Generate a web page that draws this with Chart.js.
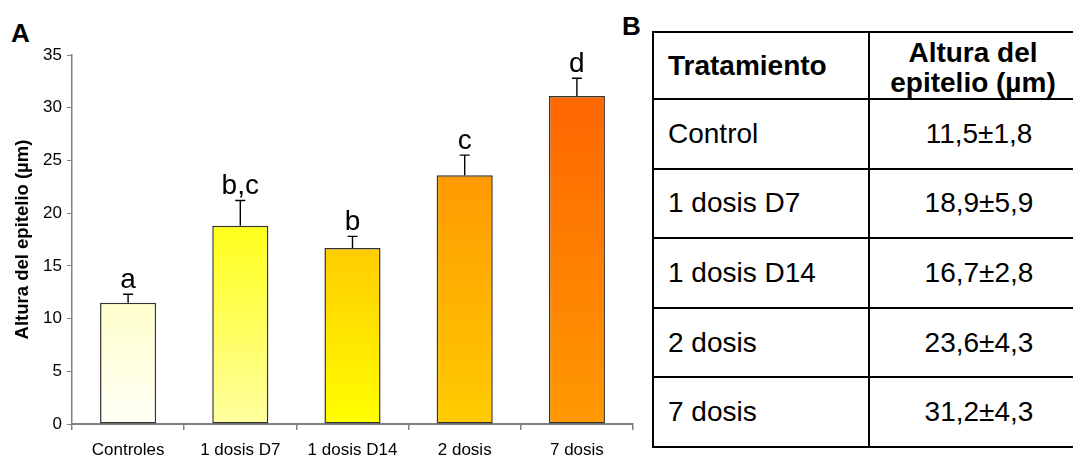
<!DOCTYPE html>
<html>
<head>
<meta charset="utf-8">
<script src="https://cdn.jsdelivr.net/npm/chart.js@4.4.0/dist/chart.umd.min.js"></script>
<style>
    html, body { margin: 0; padding: 0; background: #fff; overflow: hidden; }
    body { width: 1073px; height: 458px; position: relative; font-family: "Liberation Sans", Arial, sans-serif; }
    #chartBox { position: absolute; left: 0; top: 0; width: 645px; height: 458px; }
    .panel { position: absolute; font-weight: bold; font-size: 26px; line-height: 26px; }
    #tabla { position: absolute; left: 652px; top: 31px; width: 434px; border-collapse: collapse; table-layout: fixed; font-size: 28px; }
    #tabla td, #tabla th { border: 2px solid #000; padding: 0 0 0 14px; }
    #tabla th { font-weight: bold; line-height: 30px; }
    #tabla th.num { text-align: center; padding: 4px 10px 0 0; }
    #tabla td.num { text-align: center; padding: 0 0 0 2px; }
    #tabla tr { height: 69.6px; }
    #tabla tr.cab { height: 67px; }
</style>
</head>
<body>
<div class="panel" style="left:11px; top:20px;">A</div>
<div class="panel" style="left:622px; top:13px;">B</div>
<div id="chartBox"><canvas id="grafico" width="645" height="458"></canvas></div>
<table id="tabla">
    <colgroup><col style="width:216px"><col style="width:218px"></colgroup>
    <tbody id="cuerpoTabla">
        <tr class="cab"><th style="text-align:left">Tratamiento</th><th class="num">Altura del<br>epitelio (µm)</th></tr>
    </tbody>
</table>
<script>
// Datos del gráfico (A)
const categorias = ['Controles', '1 dosis D7', '1 dosis D14', '2 dosis', '7 dosis'];
const medias = [11.5, 18.8, 16.7, 23.6, 31.1];
const errores = [0.8, 2.4, 1.1, 1.9, 1.7];
const letras = ['a', 'b,c', 'b', 'c', 'd'];

// Colores del degradado de cada barra (arriba -> abajo)
const coloresArriba = ['#FFFFCC', '#FFFF1A', '#FFCC00', '#FF9900', '#FF6600'];
const coloresAbajo = ['#FFFFF6', '#FFFFA0', '#FFFF00', '#FFCC00', '#FF9900'];

// Datos de la tabla (B)
const tratamientos = ['Control', '1 dosis D7', '1 dosis D14', '2 dosis', '7 dosis'];
const mediasTabla = [11.5, 18.9, 16.7, 23.6, 31.2];
const desviaciones = [1.8, 5.9, 2.8, 4.3, 4.3];

const fuente = '"Liberation Sans", Arial, sans-serif';

// Rellenar la tabla
const cuerpo = document.getElementById('cuerpoTabla');
tratamientos.forEach((t, i) => {
    const fila = document.createElement('tr');
    const a = document.createElement('td');
    a.textContent = t;
    const b = document.createElement('td');
    b.className = 'num';
    b.textContent = `${mediasTabla[i].toFixed(1).replace('.', ',')}±${desviaciones[i].toFixed(1).replace('.', ',')}`;
    fila.appendChild(a);
    fila.appendChild(b);
    cuerpo.appendChild(fila);
});

// Degradado vertical para cada barra
function degradado(context) {
    const i = context.dataIndex;
    const chart = context.chart;
    if (!chart.chartArea || context.type !== 'data') return coloresAbajo[i];
    const yScale = chart.scales.y;
    const arriba = yScale.getPixelForValue(medias[i]);
    const abajo = yScale.getPixelForValue(0);
    const g = chart.ctx.createLinearGradient(0, arriba, 0, abajo);
    g.addColorStop(0, coloresArriba[i]);
    g.addColorStop(1, coloresAbajo[i]);
    return g;
}

// Barras de error (solo hacia arriba) y letras
const barrasError = {
    id: 'barrasError',
    afterDatasetsDraw(chart) {
        const ctx = chart.ctx;
        const yScale = chart.scales.y;
        const meta = chart.getDatasetMeta(0);
        ctx.save();
        ctx.strokeStyle = '#000';
        ctx.lineWidth = 1.4;
        ctx.fillStyle = '#000';
        ctx.font = '28px ' + fuente;
        ctx.textAlign = 'center';
        ctx.textBaseline = 'alphabetic';
        meta.data.forEach((bar, i) => {
            const yTop = yScale.getPixelForValue(medias[i] + errores[i]);
            ctx.beginPath();
            ctx.moveTo(bar.x, bar.y);
            ctx.lineTo(bar.x, yTop);
            ctx.moveTo(bar.x - 5, yTop);
            ctx.lineTo(bar.x + 5, yTop);
            ctx.stroke();
            ctx.fillText(letras[i], bar.x, yTop - 6);
        });
        ctx.restore();
    }
};

new Chart(document.getElementById('grafico'), {
    type: 'bar',
    data: {
        labels: categorias,
        datasets: [{
            data: medias,
            backgroundColor: degradado,
            borderColor: '#333333',
            borderWidth: 1.5,
            borderSkipped: false,
            categoryPercentage: 1,
            barPercentage: 0.5
        }]
    },
    options: {
        responsive: false,
        animation: false,
        devicePixelRatio: 1,
        layout: { padding: { top: 55, right: 12, left: 0, bottom: 0 } },
        plugins: {
            legend: { display: false },
            tooltip: { enabled: false }
        },
        scales: {
            x: {
                grid: { display: true, drawOnChartArea: false, drawTicks: true, tickLength: 6, color: '#808080', lineWidth: 1.5, offset: true },
                border: { color: '#808080', width: 2 },
                ticks: { color: '#000', font: { size: 17, family: fuente }, padding: 10, maxRotation: 0 },
                afterFit(s) { s.height = 34; }
            },
            y: {
                min: 0,
                max: 35,
                ticks: { stepSize: 5, color: '#000', font: { size: 17, family: fuente }, padding: 5 },
                grid: { display: true, drawOnChartArea: false, drawTicks: true, tickLength: 5, color: '#808080' },
                border: { color: '#808080', width: 1.5 },
                title: {
                    display: true,
                    text: 'Altura del epitelio (µm)',
                    color: '#000',
                    font: { size: 18.5, weight: 'bold', family: fuente },
                    padding: { top: 12, bottom: 0 }
                },
                afterFit(s) { s.width = 72; }
            }
        }
    },
    plugins: [barrasError]
});
</script>
</body>
</html>
